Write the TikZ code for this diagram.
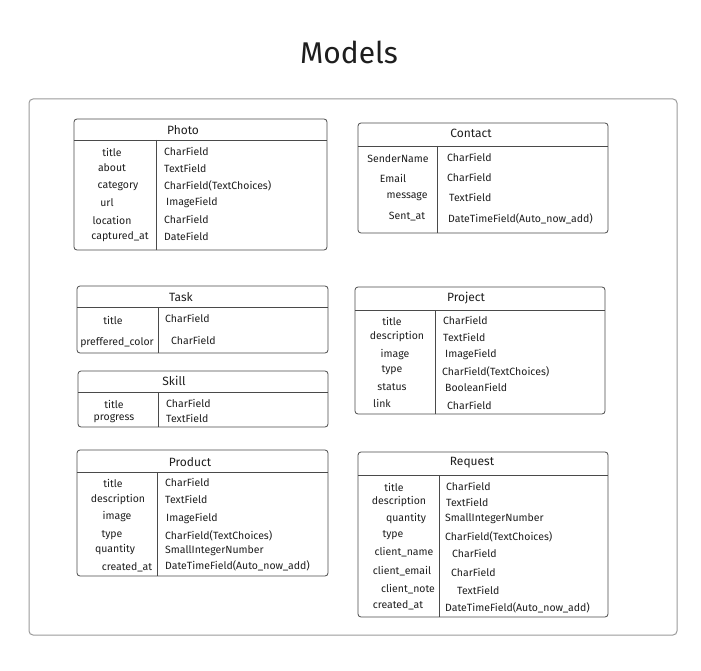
\documentclass[tikz,border=0pt]{standalone}
\usepackage{fontspec}
\setmainfont{Fira Sans}
\usepackage{xcolor}
\definecolor{ink}{HTML}{1E1E1E}
\definecolor{edge}{HTML}{4A4A4A}
\definecolor{framegray}{HTML}{9A9A9A}

\begin{document}
\begin{tikzpicture}[x=1pt,y=-1pt,
  tbl/.style={draw=edge,line width=0.8pt,rounded corners=3pt},
  rule/.style={draw=edge,line width=0.6pt},
  head/.style={font=\fontsize{12}{14}\selectfont,text=ink},
  fname/.style={font=\fontsize{10.5}{12}\selectfont,text=ink},
  ftype/.style={font=\fontsize{10.5}{12}\selectfont,text=ink,anchor=west,inner xsep=0pt}]
\useasboundingbox (0,0) rectangle (701,671);
\node[font=\fontsize{30}{36}\selectfont,text=ink] (models) at (349,52) {Models};
\draw[draw=framegray,line width=1pt,rounded corners=4pt] (29,99) rectangle (677,635);

\draw[tbl] (74,119) rectangle (327,250);
\draw[rule] (74,140) -- (327,140) (156,140) -- (156,250);
\node[head] (photo) at (183,130) {Photo};
\foreach \x/\y/\nm [count=\i] in {112/152/title,112/168/about,118/186/category,107/203/url,112/220/location,120/237/captured\_at}
  \node[fname] (photo-n\i) at (\x,\y) {\nm};
\foreach \x/\y/\ty [count=\i] in {164/151/CharField,164/168/TextField,164/186/CharField(TextChoices),166/203/ImageField,164/219/CharField,164/236/DateField}
  \node[ftype] (photo-t\i) at (\x,\y) {\ty};

\draw[tbl] (358,123) rectangle (608,233);
\draw[rule] (358,146) -- (608,146) (437,146) -- (437,233);
\node[head] (contact) at (471,133) {Contact};
\foreach \x/\y/\nm [count=\i] in {398/159/SenderName,393/178/Email,407/197/message,407/217/Sent\_at}
  \node[fname] (contact-n\i) at (\x,\y) {\nm};
\foreach \x/\y/\ty [count=\i] in {447/157/CharField,447/177/CharField,449/197/TextField,448/219/DateTimeField(Auto\_now\_add)}
  \node[ftype] (contact-t\i) at (\x,\y) {\ty};

\draw[tbl] (77,286) rectangle (328,353);
\draw[rule] (77,307) -- (328,307) (158,307) -- (158,353);
\node[head] (task) at (181,297) {Task};
\foreach \x/\y/\nm [count=\i] in {113/320/title,117/343/preffered\_color}
  \node[fname] (task-n\i) at (\x,\y) {\nm};
\foreach \x/\y/\ty [count=\i] in {165/318/CharField,171/340/CharField}
  \node[ftype] (task-t\i) at (\x,\y) {\ty};

\draw[tbl] (78,371) rectangle (328,427);
\draw[rule] (78,392) -- (328,392) (158,392) -- (158,427);
\node[head] (skill) at (174,381) {Skill};
\foreach \x/\y/\nm [count=\i] in {114/404/title,114/419/progress}
  \node[fname] (skill-n\i) at (\x,\y) {\nm};
\foreach \x/\y/\ty [count=\i] in {166/403/CharField,166/418/TextField}
  \node[ftype] (skill-t\i) at (\x,\y) {\ty};

\draw[tbl] (355,287) rectangle (605,414);
\draw[rule] (355,310) -- (605,310) (435,310) -- (435,414);
\node[head] (project) at (466,298) {Project};
\foreach \x/\y/\nm [count=\i] in {392/321/title,397/337/description,395/355/image,392/370/type,392/387/status,382/403/link}
  \node[fname] (project-n\i) at (\x,\y) {\nm};
\foreach \x/\y/\ty [count=\i] in {443/320/CharField,443/337/TextField,445/355/ImageField,442/372/CharField(TextChoices),445/387/BooleanField,447/405/CharField}
  \node[ftype] (project-t\i) at (\x,\y) {\ty};

\draw[tbl] (77,450) rectangle (328,576);
\draw[rule] (77,472) -- (328,472) (157,472) -- (157,576);
\node[head] (product) at (190,462) {Product};
\foreach \x/\y/\nm [count=\i] in {113/483/title,118/500/description,117/517/image,112/535/type,115/550/quantity,127/567/created\_at}
  \node[fname] (product-n\i) at (\x,\y) {\nm};
\foreach \x/\y/\ty [count=\i] in {165/482/CharField,165/499/TextField,166/519/ImageField,165/536/CharField(TextChoices),165/551/SmallIntegerNumber,165/566/DateTimeField(Auto\_now\_add)}
  \node[ftype] (product-t\i) at (\x,\y) {\ty};

\draw[tbl] (358,452) rectangle (608,617);
\draw[rule] (358,475) -- (608,475) (439,475) -- (439,617);
\node[head] (request) at (472,463) {Request};
\foreach \x/\y/\nm [count=\i] in {394/487/title,399/502/description,406/519/quantity,393/535/type,404/552/client\_name,402/571/client\_email,408/589/client\_note,398/605/created\_at}
  \node[fname] (request-n\i) at (\x,\y) {\nm};
\foreach \x/\y/\ty [count=\i] in {446/486/CharField,446/502/TextField,445/519/SmallIntegerNumber,445/537/CharField(TextChoices),452/553/CharField,451/572/CharField,457/590/TextField,445/608/DateTimeField(Auto\_now\_add)}
  \node[ftype] (request-t\i) at (\x,\y) {\ty};
\end{tikzpicture}
\end{document}
